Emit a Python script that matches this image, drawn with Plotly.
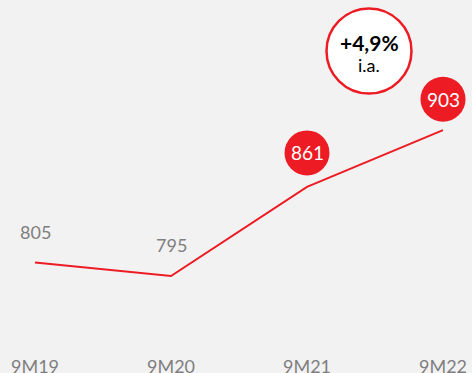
import plotly.graph_objects as go

# Data
periods = ["9M19", "9M20", "9M21", "9M22"]
values = [805, 795, 861, 903]
highlighted = ["9M21", "9M22"]          # values shown inside red bubbles
growth_label = "+4,9%"
growth_note = "i.a."

RED = "#ED1C24"
GREY = "#7F7F7F"
BG = "#F2F2F2"
FONT = "Lato, 'Open Sans', sans-serif"

W, H = 472, 373
xpos = list(range(len(periods)))

fig = go.Figure()
fig.add_trace(go.Scatter(
    x=xpos, y=values, mode="lines",
    line=dict(color=RED, width=2),
    hoverinfo="skip", showlegend=False,
))

annotations = []
shapes = []
for i, (p, v) in enumerate(zip(periods, values)):
    # category label along the bottom
    annotations.append(dict(
        x=i, y=(H - 366) / H, xref="x", yref="paper",
        text=p, showarrow=False, xanchor="center", yanchor="middle",
        font=dict(family=FONT, size=18, color=GREY),
    ))
    if p in highlighted:
        shift = 34 if p == "9M21" else 31
        shapes.append(dict(
            type="circle", xref="x", yref="y",
            xsizemode="pixel", ysizemode="pixel",
            xanchor=i, yanchor=v,
            x0=-22.5, x1=22.5, y0=shift - 22.5, y1=shift + 22.5,
            fillcolor=RED, line=dict(width=0), layer="above",
        ))
        annotations.append(dict(
            x=i, y=v, xref="x", yref="y", text=str(v), showarrow=False,
            yshift=shift, xanchor="center", yanchor="middle",
            font=dict(family=FONT, size=19, color="white"),
        ))
    else:
        annotations.append(dict(
            x=i, y=v, xref="x", yref="y", text=str(v), showarrow=False,
            yshift=31, xanchor="center", yanchor="middle",
            font=dict(family=FONT, size=18, color=GREY),
        ))

# growth badge
cx, cy = 369 / W, 1 - 51 / H
shapes.append(dict(
    type="circle", xref="paper", yref="paper",
    xsizemode="pixel", ysizemode="pixel", xanchor=cx, yanchor=cy,
    x0=-42.5, x1=42.5, y0=-42.5, y1=42.5,
    fillcolor="white", line=dict(color=RED, width=2.5), layer="above",
))
annotations.append(dict(
    x=cx, y=1 - 43 / H, xref="paper", yref="paper",
    text=f"<b>{growth_label}</b>", showarrow=False,
    xanchor="center", yanchor="middle",
    font=dict(family=FONT, size=21, color="black"),
))
annotations.append(dict(
    x=cx, y=1 - 65 / H, xref="paper", yref="paper",
    text=growth_note, showarrow=False,
    xanchor="center", yanchor="middle",
    font=dict(family=FONT, size=18, color="black"),
))

px_per_cat = 136
x0_px = 35
px_per_unit = 1.35
ref_val, ref_px = 795, 276

fig.update_layout(
    width=W, height=H,
    margin=dict(l=0, r=0, t=0, b=0),
    paper_bgcolor=BG, plot_bgcolor=BG,
    xaxis=dict(range=[-x0_px / px_per_cat, (W - x0_px) / px_per_cat],
               visible=False, fixedrange=True),
    yaxis=dict(range=[ref_val - (H - ref_px) / px_per_unit,
                      ref_val + ref_px / px_per_unit],
               visible=False, fixedrange=True),
    shapes=shapes,
    annotations=annotations,
)

fig.write_html("out.html", config={"displayModeBar": False})
